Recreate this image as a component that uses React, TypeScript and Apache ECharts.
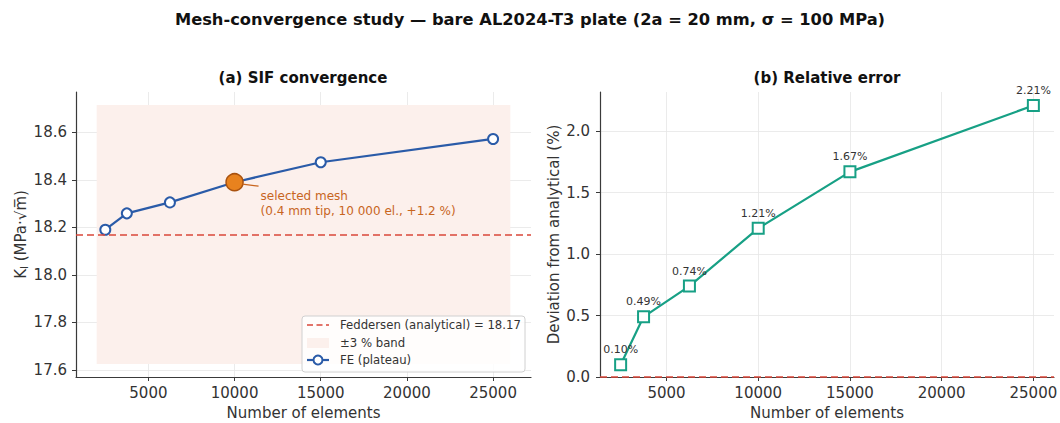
import React, { useEffect, useRef } from 'react';
import * as echarts from 'echarts';

// ---- data ----
const ELEMENTS = [2500, 3750, 6250, 10000, 15000, 25000];
const K_FE = [18.19, 18.259, 18.305, 18.39, 18.474, 18.572];
const DEV_PCT = [0.10, 0.49, 0.74, 1.21, 1.67, 2.21];
const K_ANALYTICAL = 18.17;
const SELECTED = [10000, 18.39];
const BAND_X = [2000, 26000];
const BAND_PCT = 3;
const X_LIM_A = [800, 27200];
const K_LIM = [17.5704, 18.7696];
const X_LIM_B = [1375, 26125];
const DEV_LIM = [0, 2.32];
const DEV_TICK_STEP = 0.5;

const FONT = 'DejaVu Sans';
const BLUE = '#2a5ba8';
const GREEN = '#17a085';
const RED = '#d9473a';
const ORANGE = '#e8821e';
const BAND = '#fcf0ec';
const AXIS = '#3a3a3a';
const GRIDC = '#e6e6e6';
const TICK_FS = 15;

function axisCommon(fmt: (v: number) => string, showMin: boolean, margin: number) {
  return {
    type: 'value' as const,
    axisLine: { show: true, onZero: false, lineStyle: { color: AXIS, width: 1.2 } },
    axisTick: { show: true, length: 4, lineStyle: { color: AXIS, width: 1 } },
    axisLabel: {
      show: true, showMinLabel: showMin, showMaxLabel: false,
      color: '#333', fontSize: TICK_FS, fontFamily: FONT, margin,
      formatter: (v: number) => '{t|' + fmt(v) + '}',
      rich: { t: { fontSize: TICK_FS, fontFamily: FONT, color: '#333' } },
    },
    splitLine: { show: true, showMinLine: false, showMaxLine: false, lineStyle: { color: GRIDC, width: 0.8 } },
  };
}

export default function App() {
  const ref = useRef<HTMLDivElement>(null);
  useEffect(() => {
    const chart = echarts.init(ref.current!, null, { renderer: 'svg' });
    const bandLo = K_ANALYTICAL * (1 - BAND_PCT / 100);
    const bandHi = K_ANALYTICAL * (1 + BAND_PCT / 100);
    const nameStyle = { fontSize: 15, color: '#333', fontFamily: FONT };
    chart.setOption({
      animation: false,
      backgroundColor: '#fff',
      textStyle: { fontFamily: FONT },
      grid: [
        { left: 76, top: 92, width: 455, height: 285, outerBoundsMode: 'none' },
        { left: 600, top: 92, width: 454, height: 285, outerBoundsMode: 'none' },
      ],
      xAxis: [
        {
          ...axisCommon((v) => String(v), false, 8), gridIndex: 0, min: X_LIM_A[0], max: X_LIM_A[1],
          name: 'Number of elements', nameLocation: 'middle', nameGap: 28, nameTextStyle: nameStyle,
        },
        {
          ...axisCommon((v) => String(v), false, 8), gridIndex: 1, min: X_LIM_B[0], max: X_LIM_B[1],
          name: 'Number of elements', nameLocation: 'middle', nameGap: 28, nameTextStyle: nameStyle,
        },
      ],
      yAxis: [
        {
          ...axisCommon((v) => v.toFixed(1), false, 9), gridIndex: 0, min: K_LIM[0], max: K_LIM[1],
          name: '{a|K}{s|I}{a| (MPa·√m\u0305)}', nameLocation: 'middle', nameGap: 46,
          nameTextStyle: {
            ...nameStyle,
            rich: {
              a: { fontSize: 15, color: '#333', fontFamily: FONT },
              s: { fontSize: 10, color: '#333', fontFamily: FONT, padding: [8, 0, 0, 0] },
            },
          },
        },
        {
          ...axisCommon((v) => v.toFixed(1), true, 10), gridIndex: 1, min: DEV_LIM[0], max: DEV_LIM[1], interval: DEV_TICK_STEP,
          name: 'Deviation from analytical (%)', nameLocation: 'middle', nameGap: 39, nameTextStyle: nameStyle,
        },
      ],
      series: [
        {
          type: 'line', xAxisIndex: 0, yAxisIndex: 0, silent: true, z: 3,
          data: ELEMENTS.map((x, i) => [x, K_FE[i]]),
          symbol: 'circle', symbolSize: 10, showAllSymbol: true,
          lineStyle: { color: BLUE, width: 2.2 },
          itemStyle: { color: '#fff', borderColor: BLUE, borderWidth: 2 },
          markArea: {
            silent: true,
            itemStyle: { color: BAND, opacity: 1 },
            data: [[{ coord: [BAND_X[0], bandLo] }, { coord: [BAND_X[1], bandHi] }]],
          },
          markLine: {
            silent: true, symbol: 'none', label: { show: false },
            lineStyle: { color: RED, type: [7, 4], width: 1.6 },
            data: [{ yAxis: K_ANALYTICAL }],
          },
        },
        {
          type: 'scatter', xAxisIndex: 0, yAxisIndex: 0, silent: true, z: 5,
          data: [SELECTED], symbolSize: 17,
          itemStyle: { color: ORANGE, borderColor: '#a9520f', borderWidth: 1.5, opacity: 1 },
        },
        {
          type: 'line', xAxisIndex: 1, yAxisIndex: 1, silent: true, z: 3,
          data: ELEMENTS.map((x, i) => [x, DEV_PCT[i]]),
          symbol: 'rect', symbolSize: 11, showAllSymbol: true,
          lineStyle: { color: GREEN, width: 2.2 },
          itemStyle: { color: '#fff', borderColor: GREEN, borderWidth: 2 },
          label: {
            show: true, position: 'top', distance: 3, fontSize: 11, color: '#333', fontFamily: FONT,
            formatter: (p: any) => p.value[1].toFixed(2) + '%',
          },
          markLine: {
            silent: true, symbol: 'none', label: { show: false }, z: 10,
            lineStyle: { color: RED, type: [7, 4], width: 1.6 },
            data: [{ yAxis: 0 }],
          },
        },
      ],
    });

    const p = chart.convertToPixel({ gridIndex: 0 }, SELECTED) as number[];
    const legX = 302, legY = 316;
    const Z = 100;
    const LEG_FS = 11.7;
    chart.setOption({
      graphic: [
        {
          type: 'text', x: 530, y: 19, z: Z,
          style: {
            text: 'Mesh-convergence study — bare AL2024-T3 plate (2a = 20 mm, σ = 100 MPa)',
            fontSize: 16.3, fontWeight: 'bold', fontFamily: FONT, fill: '#111', align: 'center', verticalAlign: 'middle',
          },
        },
        {
          type: 'text', x: 303, y: 78, z: Z,
          style: { text: '(a) SIF convergence', fontSize: 15, fontWeight: 'bold', fontFamily: FONT, fill: '#111', align: 'center', verticalAlign: 'middle' },
        },
        {
          type: 'text', x: 827, y: 78, z: Z,
          style: { text: '(b) Relative error', fontSize: 15, fontWeight: 'bold', fontFamily: FONT, fill: '#111', align: 'center', verticalAlign: 'middle' },
        },
        // annotation
        {
          type: 'line', z: Z,
          shape: { x1: p[0] + 8, y1: p[1] + 2, x2: p[0] + 24, y2: p[1] + 4 },
          style: { stroke: '#c8651e', lineWidth: 1.3 },
        },
        {
          type: 'text', x: p[0] + 26, y: p[1] + 6, z: Z,
          style: {
            text: 'selected mesh\n(0.4 mm tip, 10 000 el., +1.2 %)',
            fontSize: 12, fontFamily: FONT, fill: '#c8651e', lineHeight: 15, align: 'left', verticalAlign: 'top',
          },
        },
        // legend
        { type: 'rect', z: Z, shape: { x: legX, y: legY, width: 223, height: 56, r: 3 }, style: { fill: 'rgba(255,255,255,0.85)', stroke: '#d0d0d0', lineWidth: 1 } },
        { type: 'line', z: Z + 1, shape: { x1: legX + 5, y1: legY + 9, x2: legX + 27, y2: legY + 9 }, style: { stroke: RED, lineWidth: 1.6, lineDash: [6, 3.5] } },
        { type: 'text', z: Z + 1, x: legX + 38, y: legY + 9, style: { text: 'Feddersen (analytical) = 18.17', fontSize: LEG_FS, fontFamily: FONT, fill: '#333', verticalAlign: 'middle' } },
        { type: 'rect', z: Z + 1, shape: { x: legX + 5, y: legY + 22, width: 22, height: 10 }, style: { fill: BAND } },
        { type: 'text', z: Z + 1, x: legX + 38, y: legY + 27, style: { text: '±3 % band', fontSize: LEG_FS, fontFamily: FONT, fill: '#333', verticalAlign: 'middle' } },
        { type: 'line', z: Z + 1, shape: { x1: legX + 5, y1: legY + 44, x2: legX + 27, y2: legY + 44 }, style: { stroke: BLUE, lineWidth: 2.2 } },
        { type: 'circle', z: Z + 2, shape: { cx: legX + 16, cy: legY + 44, r: 4.5 }, style: { fill: '#fff', stroke: BLUE, lineWidth: 2 } },
        { type: 'text', z: Z + 1, x: legX + 38, y: legY + 44, style: { text: 'FE (plateau)', fontSize: LEG_FS, fontFamily: FONT, fill: '#333', verticalAlign: 'middle' } },
      ],
    });
    return () => chart.dispose();
  }, []);
  return <div ref={ref} style={{ position: 'fixed', left: 0, top: 0, width: 1060, height: 423, background: '#fff' }} />;
}
